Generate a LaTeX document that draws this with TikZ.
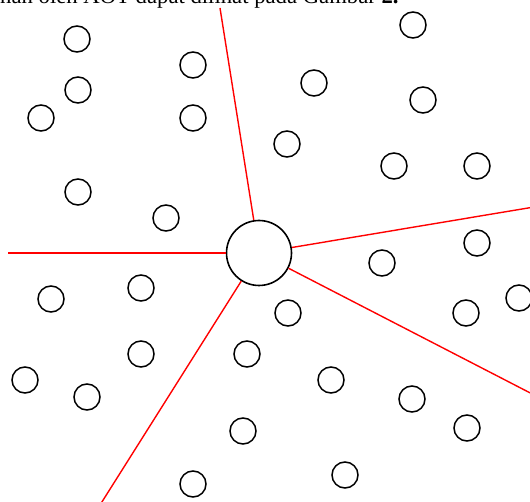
\documentclass[tikz,border=0pt]{standalone}
\usepackage{fontspec}
\setmainfont{Liberation Serif}
\usepackage{xcolor}
\usepackage{tikz}

\begin{document}
\begin{tikzpicture}[x=1pt, y=-1pt,
  sensor/.style={circle, draw=black, line width=1.5pt, fill=white, minimum size=26pt, inner sep=0pt},
  hubnode/.style={circle, draw=black, line width=1.6pt, fill=white, minimum size=65pt, inner sep=0pt},
  ray/.style={draw=red, line width=1.4pt},
  captxt/.style={anchor=base west, inner sep=0pt, font=\fontsize{22.7}{26}\selectfont}
]
\useasboundingbox (0,0) rectangle (530,502);
\clip (0,0) rectangle (530,502);

% clipped caption line above the figure
\node[captxt] (cap) at (0,4) {nan oleh AOT dapat dilihat pada Gambar \textbf{2.}};

% ray ends
\coordinate (rtop) at (220,8);
\coordinate (rleft) at (8,253);
\coordinate (rright) at (540,206);
\coordinate (rlowr) at (540,398);
\coordinate (rlowl) at (100,505);

% sensor nodes
\node[sensor] (n1) at (77,39) {};
\node[sensor] (n2) at (413,25) {};
\node[sensor] (n3) at (193,65) {};
\node[sensor] (n4) at (78,90) {};
\node[sensor] (n5) at (314,83) {};
\node[sensor] (n6) at (41,118) {};
\node[sensor] (n7) at (193,118) {};
\node[sensor] (n8) at (423,100) {};
\node[sensor] (n9) at (287,144) {};
\node[sensor] (n10) at (394,166) {};
\node[sensor] (n11) at (477,166) {};
\node[sensor] (n12) at (78,192) {};
\node[sensor] (n13) at (166,218) {};
\node[sensor] (n14) at (477,243) {};
\node[sensor] (n15) at (382,263) {};
\node[sensor] (n16) at (141,288) {};
\node[sensor] (n17) at (51,299) {};
\node[sensor] (n18) at (519,298) {};
\node[sensor] (n19) at (466,313) {};
\node[sensor] (n20) at (288,313) {};
\node[sensor] (n21) at (141,354) {};
\node[sensor] (n22) at (247,354) {};
\node[sensor] (n23) at (25,380) {};
\node[sensor] (n24) at (331,380) {};
\node[sensor] (n25) at (87,397) {};
\node[sensor] (n26) at (412,399) {};
\node[sensor] (n27) at (467,428) {};
\node[sensor] (n28) at (243,431) {};
\node[sensor] (n29) at (345,475) {};
\node[sensor] (n30) at (193,484) {};

% sink in the middle
\node[hubnode] (hub) at (259,253) {};

\draw[ray] (hub) -- (rtop);
\draw[ray] (hub) -- (rleft);
\draw[ray] (hub) -- (rright);
\draw[ray] (hub) -- (rlowr);
\draw[ray] (hub) -- (rlowl);

\end{tikzpicture}
\end{document}
